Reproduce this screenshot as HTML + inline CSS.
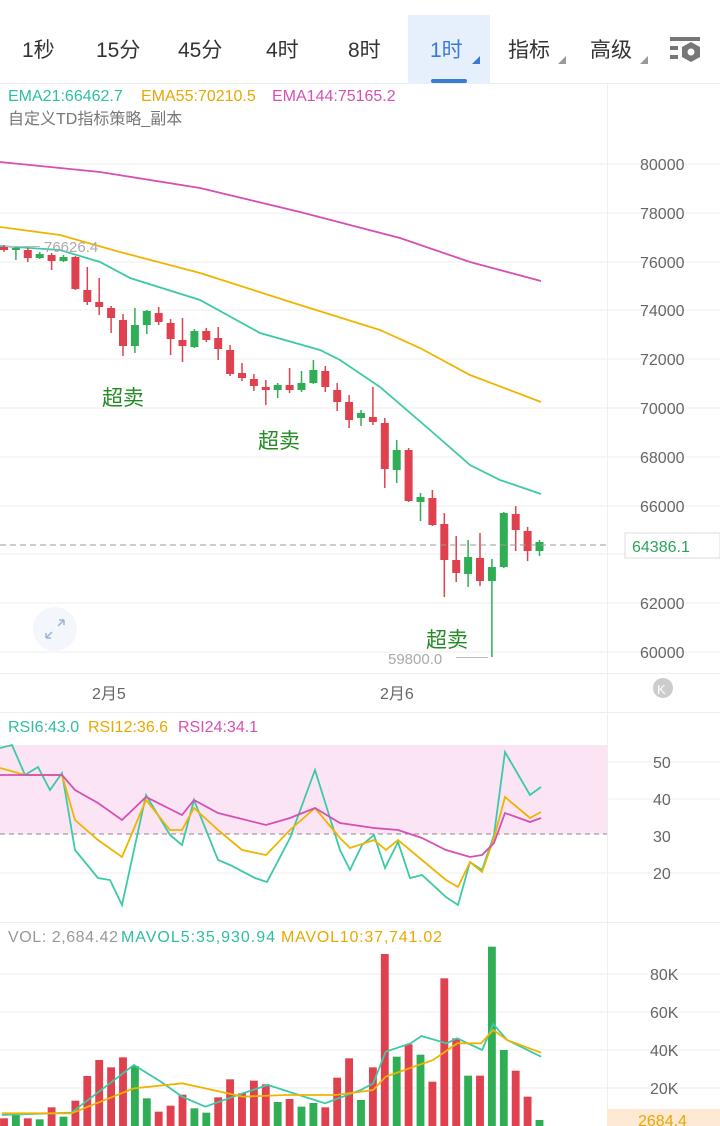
<!DOCTYPE html>
<html><head><meta charset="utf-8"><style>
body{margin:0;width:720px;height:1126px;overflow:hidden;background:#fff;font-family:"Liberation Sans","Noto Sans CJK SC",sans-serif;}
svg{position:absolute;left:0;top:0}
</style></head><body>
<svg id="s" width="720" height="1126" xmlns="http://www.w3.org/2000/svg" font-family="Liberation Sans, Noto Sans CJK SC, sans-serif">
<rect x="408" y="15" width="82" height="68" fill="#e6effc"/>
<rect x="431" y="79" width="36" height="4" rx="2" fill="#3a7bd5"/>
<line x1="0" y1="83.5" x2="720" y2="83.5" stroke="#eee"/>
<g font-size="21" fill="#333">
<text x="22" y="57">1秒</text><text x="96" y="57">15分</text><text x="178" y="57">45分</text>
<text x="266" y="57">4时</text><text x="348" y="57">8时</text>
<text x="430" y="57" fill="#3a7bd5">1时</text><text x="508" y="57">指标</text><text x="590" y="57">高级</text>
</g>
<path d="M472 64 L480 56 L480 64Z" fill="#3a7bd5"/><path d="M558 64 L566 56 L566 64Z" fill="#999"/><path d="M640 64 L648 56 L648 64Z" fill="#999"/>
<g fill="#777"><rect x="670" y="37" width="30" height="4"/><rect x="670" y="46" width="8" height="4"/><rect x="670" y="55" width="8" height="4"/>
<polygon points="691,42 700,47 700,57 691,62 682,57 682,47"/><circle cx="691" cy="52" r="3.5" fill="#fff"/></g>
<line x1="607.5" y1="84" x2="607.5" y2="1126" stroke="#eee"/>
<g font-size="16"><text x="8" y="101" fill="#2ebfa0">EMA21:66462.7</text><text x="141" y="101" fill="#e8a800">EMA55:70210.5</text><text x="272" y="101" fill="#d64fb3">EMA144:75165.2</text>
<text x="8" y="124" fill="#777">自定义TD指标策略_副本</text></g>
<g id="grid" stroke="#eee"></g>
<g font-size="16" fill="#666" id="ax"></g>
<g id="ema" fill="none" stroke-width="1.8"></g>
<g id="candles"></g>
<text x="44" y="252" font-size="15" fill="#aaa">76626.4</text><line x1="5" y1="246.5" x2="40" y2="246.5" stroke="#bbb"/>
<text x="388" y="664" font-size="15" fill="#aaa">59800.0</text><line x1="456" y1="657.5" x2="488" y2="657.5" stroke="#bbb"/>
<g font-size="21" fill="#228b22"><text x="102" y="405">超卖</text><text x="258" y="448">超卖</text><text x="426" y="647">超卖</text></g>
<line x1="0" y1="545" x2="607" y2="545" stroke="#999" stroke-dasharray="6,4"/>
<rect x="625" y="533" width="95" height="25" fill="#fff" stroke="#ddd"/>
<text x="632" y="552" font-size="16" fill="#2aa55a">64386.1</text>
<circle cx="55" cy="629" r="22" fill="#f3f6fb"/><path d="M46 638 l6-6 M46 638 v-5 M46 638 h5 M64 620 l-6 6 M64 620 v5 M64 620 h-5" stroke="#9cb3d8" stroke-width="1.5" fill="none"/>
<line x1="0" y1="673.5" x2="720" y2="673.5" stroke="#eee"/>
<g font-size="16" fill="#666"><text x="92" y="699">2月5</text><text x="380" y="699">2月6</text></g>
<circle cx="663" cy="688" r="10" fill="#ccc"/><text x="657" y="694" font-size="13" fill="#fff">K</text>
<line x1="0" y1="712.5" x2="720" y2="712.5" stroke="#eee"/>
<g font-size="16"><text x="8" y="732" fill="#2ebfa0">RSI6:43.0</text><text x="88" y="732" fill="#e8a800">RSI12:36.6</text><text x="178" y="732" fill="#d64fb3">RSI24:34.1</text></g>
<rect x="0" y="745" width="607" height="89" fill="#fbe4f4"/>
<line x1="0" y1="834" x2="607" y2="834" stroke="#888" stroke-dasharray="5,4"/>
<g id="rsi" fill="none" stroke-width="1.8"></g>
<line x1="0" y1="922.5" x2="720" y2="922.5" stroke="#eee"/>
<g font-size="16"><text x="8" y="942" fill="#999" textLength="110">VOL: 2,684.42</text><text x="121" y="942" fill="#2ebfa0" textLength="154">MAVOL5:35,930.94</text><text x="281" y="942" fill="#e8a800" textLength="161">MAVOL10:37,741.02</text></g>
<g id="vol" transform="translate(0,930) scale(0.35714,0.33333)"></g>
<rect x="607" y="1109" width="113" height="17" fill="#fde9d4"/><text x="638" y="1126" font-size="16" fill="#e8a800">2684.4</text>
</svg>
<script>
const NS="http://www.w3.org/2000/svg";
function el(p,t,a){const e=document.createElementNS(NS,t);for(const k in a)e.setAttribute(k,a[k]);document.getElementById(p).appendChild(e);return e;}
const R="#e0414f",G="#2fae55";
[[164,"80000"],[213,"78000"],[262,"76000"],[310,"74000"],[359,"72000"],[408,"70000"],[457,"68000"],[506,"66000"],[603,"62000"],[652,"60000"]].forEach(([y,t])=>{el("grid","line",{x1:0,x2:720,y1:y,y2:y});const e=el("ax","text",{x:640,y:y+6});e.textContent=t;});
el("grid","line",{x1:0,x2:720,y1:554,y2:554});
[[762,"50"],[799,"40"],[836,"30"],[873,"20"]].forEach(([y,t])=>{if(t!="30")el("grid","line",{x1:0,x2:720,y1:y,y2:y});const e=el("ax","text",{x:653,y:y+6});e.textContent=t;});
[[974,"80K"],[1012,"60K"],[1050,"40K"],[1088,"20K"]].forEach(([y,t])=>{el("grid","line",{x1:0,x2:720,y1:y,y2:y});const e=el("ax","text",{x:650,y:y+6});e.textContent=t;});
function pl(p,pts,c,extra){el(p,"polyline",Object.assign({points:pts.map(q=>q.join(",")).join(" "),stroke:c},extra||{}));}
pl("ema",[[0,162],[100,172],[200,188],[300,212],[400,238],[470,262],[541,281]],"#d64fb3");
pl("ema",[[0,227],[60,235],[120,252],[200,273],[300,305],[380,330],[420,348],[470,375],[541,402]],"#f0b400");
pl("ema",[[0,246],[60,250],[100,262],[130,278],[200,300],[260,333],[320,350],[340,360],[380,387],[430,430],[470,465],[500,480],[541,494]],"#3cc9a8");
const C=[[247,250,245,252],[249,248,246,260],[250,258,248,262],[258,254,252,259],[255,261,253,270],[261,257,255,262],[257,289,256,290],[290,302,267,305],[302,307,278,315],[308,318,306,333],[320,346,314,356],[346,325,308,353],[325,311,310,334],[313,322,307,325],[323,339,319,355],[340,346,318,362],[347,331,329,348],[331,340,328,342],[338,349,327,360],[350,374,345,376],[373,378,363,381],[379,386,374,391],[387,390,380,405],[390,385,383,398],[385,390,368,393],[390,383,371,392],[383,370,360,384],[371,387,366,392],[390,402,383,411],[402,420,395,428],[418,413,410,426],[417,422,387,425],[423,469,418,488],[470,450,440,483],[450,501,448,502],[502,497,493,521],[498,525,490,526],[524,560,513,597],[560,573,536,582],[574,557,540,587],[558,581,533,586],[581,567,559,657],[567,513,512,568],[514,530,506,551],[531,551,527,561],[551,542,540,556]];
C.forEach((c,i)=>{const x=4+11.9*i;const col=c[1]>c[0]?R:G;el("candles","line",{x1:x,x2:x,y1:c[2],y2:c[3],stroke:col,"stroke-width":1.5});const t=Math.min(c[0],c[1]),h=Math.max(2,Math.abs(c[1]-c[0]));el("candles","rect",{x:x-4,y:t,width:8,height:h,fill:col});});
pl("rsi",[[0,748],[12,745],[25,775],[38,767],[50,790],[62,773],[75,850],[98,878],[110,880],[122,905],[146,795],[170,835],[182,845],[194,800],[218,860],[230,865],[255,878],[267,882],[290,838],[315,770],[340,850],[350,870],[362,845],[374,835],[385,868],[398,842],[410,878],[422,875],[446,897],[458,905],[470,862],[482,870],[494,835],[505,752],[530,795],[541,787]],"#3cc9a8");
pl("rsi",[[0,768],[25,775],[62,775],[75,820],[98,840],[122,857],[146,800],[170,830],[182,830],[194,808],[218,830],[242,850],[266,855],[290,830],[315,808],[340,838],[350,848],[374,840],[386,850],[398,840],[422,860],[446,880],[458,887],[470,862],[482,872],[494,838],[505,797],[530,818],[541,812]],"#f0b400");
pl("rsi",[[0,775],[62,775],[75,790],[98,803],[122,820],[146,797],[182,815],[194,800],[218,813],[266,825],[290,818],[315,808],[340,823],[374,828],[398,830],[422,838],[446,850],[470,857],[482,855],[494,843],[505,813],[530,822],[541,818]],"#d64fb3");
const V=[[565,R],[555,G],[565,R],[568,G],[532,R],[560,G],[512,R],[438,R],[390,R],[412,R],[382,R],[408,G],[505,G],[545,R],[527,R],[494,R],[535,G],[548,G],[502,R],[448,R],[490,R],[452,R],[463,R],[516,G],[507,R],[530,G],[519,G],[532,R],[443,R],[385,R],[510,G],[412,R],[72,R],[380,G],[343,R],[374,G],[455,R],[145,R],[325,R],[437,G],[437,R],[50,G],[360,G],[422,R],[500,R],[570,G]];
V.forEach((v,i)=>{const x=(4+11.9*i)*2.8;el("vol","rect",{x:x-11,y:v[0],width:22,height:620-v[0],fill:v[1]});});
pl("vol",[[5,555],[200,548],[375,405],[450,455],[510,500],[575,530],[680,490],[750,465],[910,520],[1010,480],[1045,460],[1080,365],[1150,340],[1180,318],[1250,340],[1280,325],[1350,360],[1381,282],[1420,330],[1515,380]],"#3cc9a8",{fill:"none","stroke-width":1.8,"vector-effect":"non-scaling-stroke"});
pl("vol",[[5,550],[200,550],[375,475],[510,460],[575,475],[680,500],[800,495],[940,495],[1045,480],[1080,440],[1213,390],[1280,340],[1347,340],[1381,300],[1420,330],[1515,368]],"#f0b400",{fill:"none","stroke-width":1.8,"vector-effect":"non-scaling-stroke"});
</script>
</body></html>
